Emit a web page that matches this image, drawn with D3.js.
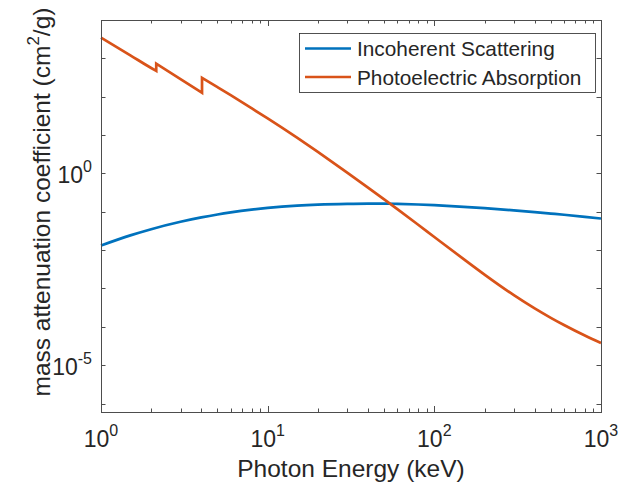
<!DOCTYPE html>
<html>
<head>
<meta charset="utf-8">
<script src="https://cdn.jsdelivr.net/npm/d3@7"></script>
<style>
  body { margin: 0; background: #fff; }
  text { font-family: "Liberation Sans", Arial, sans-serif; fill: #262626; }
</style>
</head>
<body>
<svg id="chart" width="622" height="488"></svg>
<script>
// photon energies (keV) and mass attenuation (cm^2/g)
const incoherentEnergy = [1, 1.5, 2, 3, 4, 5, 6, 8, 10, 15, 20, 30, 40, 50, 60, 80, 100, 150, 200, 300, 400, 500, 600, 800, 1000];
const incoherentValues = [0.01318, 0.02421, 0.03516, 0.05483, 0.07129, 0.08492, 0.09616, 0.1135, 0.1259, 0.1445, 0.1538, 0.1614, 0.1637, 0.1637, 0.1611, 0.1549, 0.1483, 0.1349, 0.1242, 0.1089, 0.0982, 0.0899, 0.0836, 0.0740, 0.0668];

// the two K-edges (P ~2.1 keV, Ca ~4.0 keV) appear twice: before and after the jump
const photoEnergy = [1, 1.5, 2, 2.145, 2.145, 3, 4.038, 4.038, 5, 6, 8, 10, 15, 20, 30, 40, 50, 60, 80, 100, 150, 200, 300, 400, 500, 600, 800, 1000];
const photoValues = [3470, 1200, 560, 470, 725, 288, 126, 309, 177, 109.4, 50.1, 27.1, 8.53, 3.63, 1.054, 0.4285, 0.2109, 0.1175, 0.0459, 0.02203, 0.005834, 0.002307, 6.70e-4, 3.03e-4, 1.718e-4, 1.114e-4, 5.92e-5, 3.78e-5];

const xTickExp = [0, 1, 2, 3];
const yTickExp = [0, -5];
const seriesNames = ["Incoherent Scattering", "Photoelectric Absorption"];
const seriesColors = ["#0072BD", "#D95319"];

const svg = d3.select("#chart");
const margin = {top: 20, right: 21, bottom: 76, left: 101};
const width = 622, height = 488;
const axisColor = "#4d4d4d";

const x = d3.scaleLog()
  .domain([1, 1000])
  .range([margin.left, width - margin.right]);
const y = d3.scaleLog()
  .domain([Math.pow(10, -6.22), 1e4])
  .range([height - margin.bottom, margin.top]);

const x0 = x.range()[0], x1 = x.range()[1];
const y0 = y.range()[0], y1 = y.range()[1];

// ticks (inward, on all four sides)
const xMajor = xTickExp.map(e => Math.pow(10, e));
let xMinor = [];
for (let e = 0; e < 3; e++) for (let k = 2; k <= 9; k++) xMinor.push(k * Math.pow(10, e));
let yDecades = d3.range(-6, 5).map(e => Math.pow(10, e));

const tickG = svg.append("g").attr("stroke", axisColor).attr("stroke-width", 1);
function vTicks(vals, len) {
  vals.forEach(v => {
    const px = Math.round(x(v)) + 0.5;
    tickG.append("line").attr("x1", px).attr("x2", px).attr("y1", y0).attr("y2", y0 - len);
    tickG.append("line").attr("x1", px).attr("x2", px).attr("y1", y1).attr("y2", y1 + len);
  });
}
function hTicks(vals, len) {
  vals.forEach(v => {
    const py = Math.round(y(v)) + 0.5;
    tickG.append("line").attr("y1", py).attr("y2", py).attr("x1", x0).attr("x2", x0 + len);
    tickG.append("line").attr("y1", py).attr("y2", py).attr("x1", x1).attr("x2", x1 - len);
  });
}
vTicks(xMajor.slice(1, 3), 6);
vTicks(xMinor, 3.5);
hTicks(yDecades, 4.5);

// lines: smooth pieces, split where an edge repeats the energy
const line = d3.line()
  .x(d => x(d[0]))
  .y(d => y(d[1]))
  .curve(d3.curveMonotoneX);

function edgePath(pts) {
  const pieces = [[pts[0]]];
  for (let i = 1; i < pts.length; i++) {
    if (pts[i][0] === pts[i - 1][0]) pieces.push([]);
    pieces[pieces.length - 1].push(pts[i]);
  }
  return pieces.map((p, i) => {
    const d = p.length > 1 ? line(p) : `M${x(p[0][0])},${y(p[0][1])}`;
    return i === 0 ? d : "L" + d.slice(1);
  }).join("");
}

const plot = svg.append("g");
plot.append("path")
  .attr("fill", "none")
  .attr("stroke", seriesColors[0])
  .attr("stroke-width", 2.7)
  .attr("stroke-linejoin", "round")
  .attr("d", line(incoherentEnergy.map((e, i) => [e, incoherentValues[i]])));
plot.append("path")
  .attr("fill", "none")
  .attr("stroke", seriesColors[1])
  .attr("stroke-width", 2.7)
  .attr("stroke-linejoin", "miter")
  .attr("d", edgePath(photoEnergy.map((e, i) => [e, photoValues[i]])));

// box
svg.append("rect")
  .attr("x", x0 + 0.5).attr("y", y1 + 0.5)
  .attr("width", x1 - x0).attr("height", y0 - y1)
  .attr("fill", "none").attr("stroke", axisColor).attr("stroke-width", 1);

// tick labels
xTickExp.forEach(e => {
  const t = svg.append("text")
    .attr("x", x(Math.pow(10, e)))
    .attr("y", 447)
    .attr("text-anchor", "middle")
    .style("font-size", "23px");
  t.append("tspan").text("10");
  t.append("tspan").attr("dy", -11).style("font-size", "16px").text(e);
});
yTickExp.forEach(e => {
  const t = svg.append("text")
    .attr("x", 92)
    .attr("y", y(Math.pow(10, e)) + 10)
    .attr("text-anchor", "end")
    .style("font-size", "23px");
  t.append("tspan").text("10");
  t.append("tspan").attr("dy", -11).style("font-size", "16px").text(e);
});

// axis labels
svg.append("text")
  .attr("x", (x0 + x1) / 2)
  .attr("y", 477)
  .attr("text-anchor", "middle")
  .style("font-size", "24.5px")
  .text("Photon Energy (keV)");

const yl = svg.append("text")
  .attr("transform", "translate(50,202) rotate(-90)")
  .attr("text-anchor", "middle")
  .style("font-size", "24.5px");
yl.append("tspan").text("mass attenuation coefficient (cm");
yl.append("tspan").attr("dy", -11).style("font-size", "17px").text("2");
yl.append("tspan").attr("dy", 11).text("/g)");

// legend
const lg = svg.append("g");
lg.append("rect")
  .attr("x", 299.5).attr("y", 33.5).attr("width", 296).attr("height", 59)
  .attr("fill", "#fff").attr("stroke", "#262626").attr("stroke-width", 0.8);
seriesNames.forEach((name, i) => {
  const cy = 48.5 + i * 28.5;
  lg.append("line")
    .attr("x1", 305).attr("x2", 351).attr("y1", cy).attr("y2", cy)
    .attr("stroke", seriesColors[i]).attr("stroke-width", 2.7);
  lg.append("text")
    .attr("x", 357).attr("y", cy + 7.5)
    .style("font-size", "20.8px")
    .text(name);
});
</script>
</body>
</html>
